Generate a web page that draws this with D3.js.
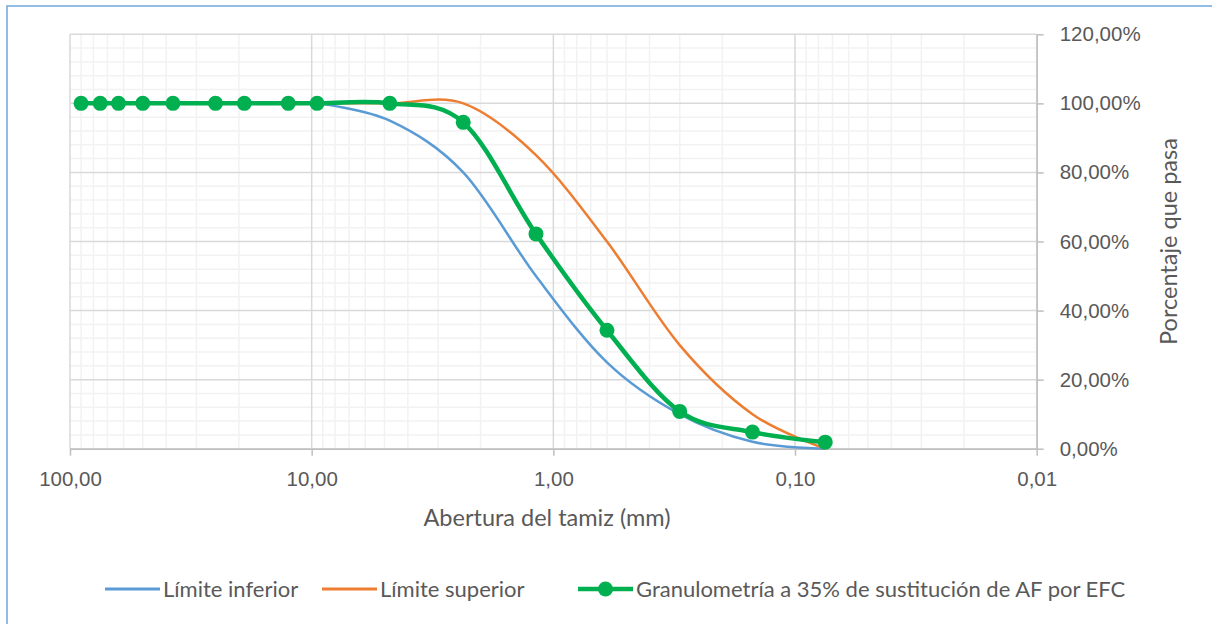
<!DOCTYPE html>
<html>
<head>
<meta charset="utf-8">
<title>Granulometría</title>
<script src="https://cdn.jsdelivr.net/npm/d3@7"></script>
<style>
body, html {
  margin: 0;
  background: white;
}
svg {
  display: block;
  font-family: Lato, "Open Sans", sans-serif;
}
.axis text {
  fill: #595959;
  font-size: 20.5px;
}
.axis path, .axis line {
  stroke: #bfbfbf;
  stroke-width: 1.5px;
}
.titulo {
  fill: #595959;
  font-size: 23.5px;
}
.leyenda {
  fill: #595959;
  font-size: 22px;
}
</style>
</head>
<body>
<script>
// datos
var tamices = [90, 75, 63, 50, 37.5, 25, 19, 12.5, 9.5, 4.75, 2.36, 1.18, 0.6, 0.3, 0.15, 0.075];
var granulometria = [100, 100, 100, 100, 100, 100, 100, 100, 100, 100, 94.5, 62.2, 34.3, 10.8, 4.8, 1.9];
var tamicesLimites = [9.5, 4.75, 2.36, 1.18, 0.6, 0.3, 0.15, 0.075];
var limiteInferior = [100, 95, 80, 50, 25, 10, 2, 0];
var limiteSuperior = [100, 100, 100, 85, 60, 30, 10, 0];
var xMayores = [100, 10, 1, 0.1, 0.01];
var yMayores = [0, 0.2, 0.4, 0.6, 0.8, 1.0, 1.2];
var nombres = ["Límite inferior", "Límite superior", "Granulometría a 35% de sustitución de AF por EFC"];
var colores = ["#5b9bd5", "#ed7d31", "#00b050"];

var W = 1212, H = 624;
var locale = d3.formatLocale({decimal: ",", thousands: ".", grouping: [3], currency: ["", "€"]});
var fmtX = locale.format(".2f"),
    fmtY = locale.format(".2%");

var svg = d3.select("body").append("svg")
    .attr("width", W)
    .attr("height", H);

// borde del grafico
svg.append("rect")
    .attr("x", 7).attr("y", 6)
    .attr("width", W).attr("height", H)
    .attr("fill", "none")
    .attr("stroke", "#6fa6dc")
    .attr("stroke-width", 1.5);

var x = d3.scaleLog().domain([100, 0.01]).range([70, 1036.7]);
var y = d3.scaleLinear().domain([0, 1.2]).range([448.7, 34.3]);

// lineas de cuadricula secundarias
var xMenores = [];
xMayores.slice(0, 4).forEach(function(d) {
  for (var k = 2; k <= 9; k++) xMenores.push(d / 10 * k);
});
var yMenores = d3.range(0, 1.2001, 0.04).filter(function(v) {
  return Math.abs(v / 0.2 - Math.round(v / 0.2)) > 1e-6;
});

var grid = svg.append("g");
grid.selectAll(".vmin").data(xMenores).enter().append("line")
    .attr("x1", x).attr("x2", x)
    .attr("y1", y(0)).attr("y2", y(1.2))
    .attr("stroke", "#f2f2f2").attr("stroke-width", 1.5);
grid.selectAll(".hmin").data(yMenores).enter().append("line")
    .attr("y1", y).attr("y2", y)
    .attr("x1", x(100)).attr("x2", x(0.01))
    .attr("stroke", "#f2f2f2").attr("stroke-width", 1.5);
grid.selectAll(".vmaj").data(xMayores).enter().append("line")
    .attr("x1", x).attr("x2", x)
    .attr("y1", y(0)).attr("y2", y(1.2))
    .attr("stroke", "#d9d9d9").attr("stroke-width", 1.5);
grid.selectAll(".hmaj").data(yMayores).enter().append("line")
    .attr("y1", y).attr("y2", y)
    .attr("x1", x(100)).attr("x2", x(0.01))
    .attr("stroke", "#d9d9d9").attr("stroke-width", 1.5);

// ejes
svg.append("g")
    .attr("class", "axis")
    .attr("transform", "translate(0," + y(0) + ")")
    .call(d3.axisBottom(x).tickValues(xMayores).tickFormat(fmtX)
      .tickSize(7).tickSizeOuter(0).tickPadding(16));

svg.append("g")
    .attr("class", "axis")
    .attr("transform", "translate(" + x(0.01) + ",0)")
    .call(d3.axisRight(y).tickValues(yMayores).tickFormat(fmtY)
      .tickSize(7).tickSizeOuter(0).tickPadding(16));

svg.append("text")
    .attr("class", "titulo")
    .attr("x", 547).attr("y", 526)
    .attr("text-anchor", "middle")
    .text("Abertura del tamiz (mm)");

svg.append("text")
    .attr("class", "titulo")
    .attr("transform", "translate(1177,241.5) rotate(-90)")
    .attr("text-anchor", "middle")
    .text("Porcentaje que pasa");

// series
var linea = d3.line()
    .x(function(d) { return x(d[0]); })
    .y(function(d) { return y(d[1] / 100); })
    .curve(d3.curveCardinal.tension(0));

var series = [
  d3.zip(tamicesLimites, limiteInferior),
  d3.zip(tamicesLimites, limiteSuperior),
  d3.zip(tamices, granulometria)
];

svg.append("path").datum(series[0])
    .attr("d", linea).attr("fill", "none")
    .attr("stroke", colores[0]).attr("stroke-width", 2.5);
svg.append("path").datum(series[1])
    .attr("d", linea).attr("fill", "none")
    .attr("stroke", colores[1]).attr("stroke-width", 2.5);
svg.append("path").datum(series[2])
    .attr("d", linea).attr("fill", "none")
    .attr("stroke", colores[2]).attr("stroke-width", 4.5);
svg.append("g").selectAll("circle").data(series[2]).enter().append("circle")
    .attr("cx", function(d) { return x(d[0]); })
    .attr("cy", function(d) { return y(d[1] / 100); })
    .attr("r", 7.5)
    .attr("fill", colores[2]);

// leyenda
var legX = [105, 322, 578];
var leg = svg.append("g").selectAll("g").data(nombres).enter().append("g")
    .attr("transform", function(d, i) { return "translate(" + legX[i] + ",589)"; });
leg.append("line")
    .attr("x1", 0).attr("x2", 55)
    .attr("stroke", function(d, i) { return colores[i]; })
    .attr("stroke-width", function(d, i) { return i == 2 ? 4.5 : 3; });
leg.filter(function(d, i) { return i == 2; }).append("circle")
    .attr("cx", 27.5).attr("r", 7.5).attr("fill", colores[2]);
leg.append("text")
    .attr("class", "leyenda")
    .attr("x", 58).attr("dy", "0.35em")
    .text(function(d) { return d; });
</script>
</body>
</html>
